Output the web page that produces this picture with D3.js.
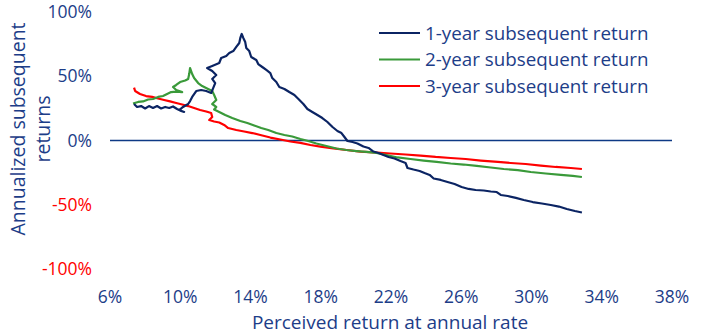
<!DOCTYPE html>
<html>
<head>
<meta charset="utf-8">
<script src="https://cdn.jsdelivr.net/npm/d3@7"></script>
<style>
  html, body { margin: 0; padding: 0; background: #fff; }
  #chart { width: 703px; height: 335px; }
  text { font-family: "Open Sans", Lato, sans-serif; }
</style>
</head>
<body>
<div id="chart"></div>
<script>
// perceived return (x, %) and annualized subsequent return (y, %)
const oneYearX = [7.37, 7.54, 7.77, 8.00, 8.22, 8.45, 8.68, 8.91, 9.14, 9.37, 9.59, 9.82, 10.05, 10.22, 9.94, 10.16, 10.45, 10.56, 10.68, 10.91,
  11.19, 11.48, 11.76, 11.88, 11.99, 11.82, 12.05, 11.82, 11.53, 11.82, 12.22, 12.33, 12.62, 12.79, 13.02, 13.19, 13.36, 13.42, 13.50, 13.59,
  13.70, 13.76, 13.93, 14.04, 14.33, 14.44, 14.67, 14.90, 15.13, 15.24, 15.47, 15.64, 15.93, 16.21, 16.50, 16.73, 17.01, 17.24, 17.52, 17.81,
  18.09, 18.38, 18.67, 18.95, 19.18, 19.35, 19.52, 19.81, 20.09, 20.43, 20.72, 21.00, 21.29, 21.57, 21.86, 22.20, 22.54, 22.83, 22.94, 23.28,
  23.63, 23.91, 24.20, 24.43, 24.83, 25.22, 25.62, 26.02, 26.42, 26.82, 27.28, 27.68, 28.02, 28.25, 28.65, 29.11, 29.56, 30.07, 30.59, 31.10,
  31.56, 32.01, 32.47, 32.87];
const oneYearY = [28.4, 26.1, 26.8, 24.9, 26.8, 25.3, 26.8, 24.9, 26.1, 25.3, 26.5, 24.5, 23.0, 22.2, 23.7, 26.1, 28.4, 30.7, 33.9, 38.5,
  39.3, 38.5, 37.0, 40.9, 44.7, 47.9, 51.0, 54.1, 56.4, 58.0, 60.3, 64.2, 65.8, 68.1, 69.6, 72.8, 75.9, 79.8, 82.9, 79.8,
  76.6, 72.0, 69.6, 65.0, 62.6, 59.5, 57.2, 54.9, 52.5, 48.6, 45.5, 41.6, 40.1, 37.7, 35.4, 32.3, 28.4, 24.5, 22.2, 19.8,
  17.5, 14.4, 10.5, 7.4, 5.8, 2.7, -0.4, -1.2, -2.3, -4.7, -5.8, -8.6, -9.7, -11.3, -12.8, -14.0, -16.0, -17.5, -21.4, -22.6,
  -23.7, -25.3, -26.8, -29.6, -30.7, -32.3, -33.9, -36.2, -37.7, -38.5, -38.9, -39.7, -40.1, -42.4, -43.2, -44.7, -46.3, -47.9, -49.0, -50.2,
  -51.4, -53.3, -54.9, -56.0];

const twoYearX = [7.31, 7.60, 7.88, 8.17, 8.45, 8.74, 9.02, 9.25, 9.48, 9.77, 10.11, 9.77, 9.59, 9.77, 9.99, 10.28, 10.45, 10.51, 10.56, 10.68,
  10.79, 11.02, 11.25, 11.53, 11.82, 11.93, 12.05, 11.82, 12.05, 11.93, 12.22, 12.56, 12.96, 13.42, 13.82, 14.21, 14.61, 15.01, 15.47, 15.93,
  16.38, 16.84, 17.29, 17.75, 18.32, 18.89, 19.46, 20.03, 20.60, 21.17, 21.74, 22.37, 23.11, 23.86, 24.60, 25.40, 26.14, 26.88, 27.68, 28.42,
  29.22, 29.96, 30.81, 31.67, 32.35, 32.87];
const twoYearY = [28.8, 30.0, 30.4, 31.9, 32.3, 33.9, 34.6, 36.2, 37.7, 38.1, 37.7, 39.3, 41.6, 43.2, 45.5, 46.7, 47.9, 51.7, 56.4, 51.7,
  48.6, 44.7, 42.4, 40.5, 38.5, 35.4, 31.5, 28.4, 26.1, 24.1, 22.2, 19.8, 17.5, 15.2, 13.6, 11.7, 9.7, 8.2, 5.8, 4.3,
  3.1, 1.2, -0.4, -2.3, -4.3, -6.2, -7.4, -8.2, -8.9, -9.7, -11.3, -13.2, -14.4, -15.6, -16.7, -17.9, -18.7, -19.8, -21.0, -22.2,
  -23.0, -24.5, -25.7, -26.8, -27.6, -28.4];

const threeYearX = [7.37, 7.43, 7.71, 8.05, 8.40, 8.74, 9.08, 9.42, 9.77, 10.11, 10.45, 10.79, 11.13, 11.48, 11.76, 11.82, 11.65, 11.93, 12.22, 12.50,
  12.73, 13.19, 13.64, 14.10, 14.56, 15.13, 15.70, 16.27, 16.84, 17.41, 17.98, 18.72, 19.46, 20.26, 21.00, 21.97, 22.83, 23.68, 24.54, 25.40,
  26.25, 27.11, 28.08, 28.82, 29.67, 30.53, 31.38, 32.24, 32.87];
const threeYearY = [41.2, 38.5, 36.2, 34.6, 33.9, 32.7, 31.5, 30.4, 29.2, 28.0, 26.8, 25.3, 23.7, 22.6, 21.4, 18.3, 16.0, 14.8, 14.0, 12.1,
  9.7, 8.2, 7.0, 5.8, 4.3, 2.3, 0.8, -0.8, -1.9, -3.5, -4.7, -6.2, -7.4, -8.6, -9.3, -10.1, -10.9, -11.7, -12.8, -13.6,
  -14.4, -15.6, -16.7, -17.5, -18.3, -19.5, -20.6, -21.4, -22.2];

const seriesNames = ["1-year subsequent return", "2-year subsequent return", "3-year subsequent return"];
const xTicks = [6, 10, 14, 18, 22, 26, 30, 34, 38];
const yTicks = [100, 50, 0, -50, -100];

(function () {
  const W = 703;
  const H = 335;
  const textBlue = "#1d3d88";
  const colours = ["#0b2463", "#3a9a3a", "#ff0000"];

  const svg = d3
    .select("#chart")
    .append("svg")
    .attr("width", W)
    .attr("height", H);

  const x = d3.scaleLinear().domain([6, 38]).range([110, 672]);
  const y = d3.scaleLinear().domain([-100, 100]).range([269, 12]);

  // zero line
  svg
    .append("line")
    .attr("x1", x(6))
    .attr("x2", x(38))
    .attr("y1", y(0))
    .attr("y2", y(0))
    .attr("stroke", "#0e3a85")
    .attr("stroke-width", 1.3);

  // y tick labels (negatives in red)
  svg
    .selectAll(".ytick")
    .data(yTicks)
    .enter()
    .append("text")
    .attr("class", "ytick")
    .attr("x", 92)
    .attr("y", (d) => y(d))
    .attr("dy", "0.35em")
    .attr("text-anchor", "end")
    .attr("font-size", "17.5px")
    .attr("fill", (d) => (d < 0 ? "#ff0000" : textBlue))
    .text((d) => d + "%");

  // x tick labels
  svg
    .selectAll(".xtick")
    .data(xTicks)
    .enter()
    .append("text")
    .attr("class", "xtick")
    .attr("x", (d) => x(d))
    .attr("y", 297)
    .attr("dy", "0.35em")
    .attr("text-anchor", "middle")
    .attr("font-size", "17.5px")
    .attr("fill", textBlue)
    .text((d) => d + "%");

  // axis titles
  svg
    .append("text")
    .attr("x", 390)
    .attr("y", 322)
    .attr("dy", "0.35em")
    .attr("text-anchor", "middle")
    .attr("font-size", "19px")
    .attr("fill", textBlue)
    .text("Perceived return at annual rate");

  const yTitle = svg
    .append("text")
    .attr("transform", "translate(18,129) rotate(-90)")
    .attr("text-anchor", "middle")
    .attr("font-size", "19.5px")
    .attr("fill", textBlue);
  yTitle.append("tspan").attr("x", 0).attr("dy", "0.35em").text("Annualized subsequent");
  yTitle.append("tspan").attr("x", 0).attr("dy", "1.3em").text("returns");

  // lines
  const allSeries = [
    d3.zip(oneYearX, oneYearY),
    d3.zip(twoYearX, twoYearY),
    d3.zip(threeYearX, threeYearY),
  ];
  const line = d3
    .line()
    .x((d) => x(d[0]))
    .y((d) => y(d[1]));

  // draw 3-year first so the 1-year sits on top
  [2, 1, 0].forEach((i) => {
    svg
      .append("path")
      .datum(allSeries[i])
      .attr("fill", "none")
      .attr("stroke", colours[i])
      .attr("stroke-width", 2.2)
      .attr("stroke-linejoin", "round")
      .attr("d", line);
  });

  // legend
  const legend = svg.append("g").attr("transform", "translate(379,33)");
  seriesNames.forEach((name, i) => {
    const g = legend.append("g").attr("transform", `translate(0, ${i * 26.5})`);
    g.append("line")
      .attr("x1", 0)
      .attr("x2", 41)
      .attr("stroke", colours[i])
      .attr("stroke-width", 2.2);
    g.append("text")
      .attr("x", 46)
      .attr("dy", "0.35em")
      .attr("font-size", "18.8px")
      .attr("fill", textBlue)
      .text(name);
  });
})();
</script>
</body>
</html>
